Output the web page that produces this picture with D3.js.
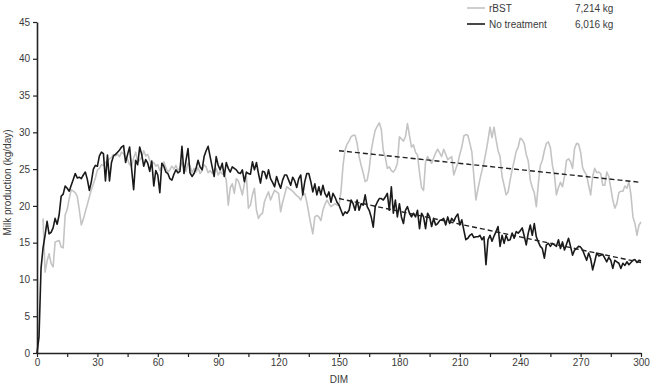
<!DOCTYPE html>
<html>
<head>
<meta charset="utf-8">
<script src="https://cdn.jsdelivr.net/npm/d3@7"></script>
<style>
    body { margin: 0; background: #fff; }
    text { font-family: "Liberation Sans", Arial, sans-serif; }
</style>
</head>
<body>
<div id="milkChart"></div>
<script>
"use strict";

// Daily milk yield (kg/day), index = days in milk (DIM)
const noTreatmentMilk = [
    0, 2.2, 11.5, 14.3, 16, 17.9, 16.2, 16.4, 17, 18.3,
    17.5, 18.8, 21.3, 21.6, 22.7, 22.4, 22, 22.8, 23.6, 24.4,
    23.8, 23.9, 23.7, 24.2, 24.6, 23.6, 22.1, 23.3, 25, 25.5,
    25.4, 26.8, 27.3, 27.1, 23.4, 26.9, 23.4, 25.9, 26.8, 27,
    27.3, 27.6, 28, 28.2, 25.9, 27, 28, 25, 22.2, 26.2,
    25.6, 28, 27, 25.4, 26.3, 25.8, 24.7, 26.1, 22.7, 24.8,
    24.2, 21.8, 25.8, 25.4, 24.6, 24.4, 23.7, 23.5, 24.3, 24.9,
    24.5, 24.7, 28.1, 24.4, 26.2, 27.8, 24.5, 24, 24.4, 25.1,
    26.2, 25.3, 24.9, 26.7, 27.5, 28.1, 26.7, 25.3, 24, 26.7,
    25.5, 24.9, 25.8, 24, 25.9, 25.1, 24.6, 25.3, 25.1, 24.9,
    24.5, 24.4, 24.9, 23.3, 24.6, 24.4, 24.3, 26, 24.9, 25.9,
    24.4, 23.1, 24.7, 24.6, 23.7, 24.9, 23.7, 23.2, 22.6, 24,
    23.1, 22.4, 23.5, 24.2, 24.2, 23.5, 22.8, 23.9, 23.4, 22.5,
    23.7, 24.2, 21.5, 23.3, 24.4, 24.4, 23.3, 21.9, 23, 21.5,
    22.6, 21.5, 22.8, 21.7, 21.2, 21.9, 20.5, 21.7, 21.2, 20.5,
    20.1, 19.4, 18.7, 19.2, 19, 19.4, 20.8, 20.3, 19.4, 20.8,
    19.4, 20.3, 20.1, 21.5, 19.9, 19.4, 18.5, 17.1, 19.9, 20.5,
    21, 21, 20.8, 21.2, 21.7, 19.4, 22.6, 19, 20.8, 18.5,
    20.3, 18.5, 17.6, 19.4, 19.9, 19, 18.5, 19, 18.5, 19.4,
    16.9, 19, 18.5, 16.9, 19, 18.5, 17.2, 18.3, 17.4, 17.6,
    18, 18.1, 18.3, 17.4, 18.5, 17.6, 18.3, 17.9, 18.5, 18.9,
    17.4, 18.1, 16.7, 15.4, 15.6, 16, 16.2, 15.7, 15.8, 15.8,
    16, 15.4, 15.8, 12, 15.4, 16, 15.2, 15.9, 16.5, 17.2,
    14.5, 16, 14.9, 16, 15.3, 15.4, 16.3, 15.6, 16.5, 16.3,
    16.6, 17, 15.9, 14.7, 16.3, 17.4, 16, 17.6, 15.8, 15.1,
    14.5, 14.2, 12.9, 14.7, 14.9, 14.5, 14.9, 14.7, 14.5, 15.4,
    14.2, 15.1, 14, 14.8, 15.6, 14.5, 13.3, 14, 14.2, 14.5,
    14.4, 14, 13.3, 12.6, 13.6, 12.8, 11.3, 12.4, 13.6, 13.2,
    13.3, 13.4, 12.9, 12.4, 13, 12.6, 11.5, 12.6, 12.4, 12.2,
    11.5, 12.2, 11.9, 12.4, 12, 12.3, 12.6, 12.7, 12.3, 12.6, 12.5
];

const rbstMilk = [
    null, null, null, 18.3, 11, 12.5, 13.5, 12.2, 11.7, 15.1,
    15.2, 15.3, 14.4, 14.3, 18.8, 19.5, 21, 22.2, 22, 21.8,
    21.3, 19.5, 17.4, 18.2, 19.2, 20.2, 21.2, 22.2, 23, 23.8,
    24.9, 25.1, 25.6, 25.5, 25.9, 26.1, 26.4, 26.6, 27, 26.8,
    27, 26.7, 27.3, 27.1, 26.5, 26.3, 25.6, 25.4, 26.5, 27.3,
    26, 26.2, 26.6, 27.5, 26.8, 27, 26.2, 25.7, 25.9, 25.4,
    25.6, 24.8, 25.3, 26, 25.2, 24.6, 24.9, 25.4, 25, 25.5,
    24.8, 25.2, 25.9, 25.1, 24.7, 25.8, 25.4, 24.5, 25.1, 24.6,
    25.2, 24.4, 24.8, 25.6, 25.3, 24.5, 24.8, 24.4, 24.6, 25.1,
    24.2, 24.7, 24.3, 24.5, 23.5, 20.1, 22.5, 23, 21.7, 23.7,
    23.4, 22.5, 21.5, 23, 24, 19.7, 20.1, 21.5, 22.4, 19.4,
    18.3, 18.8, 19, 20.6, 21.3, 21.9, 20.8, 21.5, 22.1, 21.9,
    21.7, 19.2, 20.5, 21.5, 22.6, 22.4, 22.2, 22, 21.7, 21.4,
    21.2, 20.8, 21.5, 21.7, 20.5, 19, 17.5, 16.2, 18.5, 18.7,
    18.5, 18, 19.4, 20.2, 20.8, 20.3, 19.9, 20.1, 20.3, 20.1,
    20.1, 22, 25.5, 27.6, 28.4, 28.8, 29.4, 29.6, 29.6, 28.5,
    26.7, 25.5, 24.5, 23.3, 23.5, 25, 27.5, 29, 30.3, 30.8,
    31.3, 30.4, 27.5, 26.6, 25.1, 25.3, 24.8, 24.6, 25, 25.8,
    29.4, 29.1, 28.8, 29.4, 31.2, 29.6, 28, 28.3, 27.3, 26.9,
    24.5, 22.5, 22.1, 26, 26.7, 26.2, 25.8, 26.5, 27.2, 27.7,
    27.2, 26.7, 27.7, 27, 26.3, 26.5, 26.7, 24.2, 25, 25.8,
    27, 28, 29.5, 29.7, 29.6, 28.5, 27.3, 24, 20.8, 22.3,
    23.6, 24.8, 25.9, 27.3, 28.9, 30.7, 29.3, 30.7, 29, 27.5,
    26.7, 24, 22.8, 21.5, 21.9, 23.5, 24.9, 26.1, 27.4, 28,
    29.2, 29, 28.5, 27, 26.1, 23.5, 22.5, 21.8, 19.9, 23,
    25.5, 26.2, 27.5, 28.5, 28.7, 27.9, 25.5, 24.2, 21.5, 22.5,
    23.2, 22.6, 24, 26.2, 26.4, 26, 25.1, 27.8, 28.5, 28.4,
    27.3, 25.2, 24.6, 24.2, 22.8, 21.5, 24, 25.1, 24.5, 24.6,
    24.4, 22.8, 22.8, 24.6, 24, 22.4, 20.8, 19.7, 20.3, 21.8,
    22, 22, 22.7, 22.4, 23.3, 21.5, 18.5, 17.6, 16, 17.4, 17.8
];

// Linear trends after day 150
const trendDays = [150, 300];
const rbstTrend = [27.5, 23.2];
const noTreatmentTrend = [21, 12.3];

// Legend
const seriesNames = ["rBST", "No treatment"];
const seriesTotals = ["7,214 kg", "6,016 kg"];

// Ticks
const xTickValues = [0, 15, 30, 45, 60, 75, 90, 105, 120, 135, 150, 165, 180, 195, 210, 225, 240, 255, 270, 285, 300];
const xTickLabels = [0, 30, 60, 90, 120, 150, 180, 210, 240, 270, 300];
const yTickValues = [0, 5, 10, 15, 20, 25, 30, 35, 40, 45];

const GRAY = "#c4c4c4";
const BLACK = "#1a1a1a";
const TEXT = "#3a3a3a";

window.addEventListener("load", () => {
    drawChart();
});

const drawChart = () => {

    var margin = { top: 22, right: 9, bottom: 34, left: 37 },
        width = 650 - margin.left - margin.right,
        height = 387 - margin.top - margin.bottom;

    var svg = d3.select("#milkChart")
        .append("svg")
        .attr("width", 650)
        .attr("height", 387)
        .append("g")
        .attr("transform", "translate(" + margin.left + "," + margin.top + ")");

    var x = d3.scaleLinear().domain([0, 300]).range([0, width]);
    var y = d3.scaleLinear().domain([0, 45]).range([height, 0]);

    // X axis
    var xAxis = svg.append("g")
        .attr("transform", "translate(0," + height + ")")
        .call(d3.axisBottom(x)
            .tickValues(xTickValues)
            .tickSize(4)
            .tickSizeOuter(0)
            .tickFormat(d => xTickLabels.includes(d) ? d : ""));
    xAxis.select(".domain").attr("stroke", "#222").attr("stroke-width", 1.6);
    xAxis.selectAll(".tick line").attr("stroke", "#222").attr("stroke-width", 1.2);
    xAxis.selectAll("text")
        .attr("y", 6)
        .style("font-size", "10px")
        .attr("fill", TEXT);

    // Y axis
    var yAxis = svg.append("g")
        .call(d3.axisLeft(y)
            .tickValues(yTickValues)
            .tickSize(4)
            .tickSizeOuter(0));
    yAxis.select(".domain").attr("stroke", "#222").attr("stroke-width", 1.6);
    yAxis.selectAll(".tick line").attr("stroke", "#222").attr("stroke-width", 1.2);
    yAxis.selectAll("text")
        .attr("x", -7)
        .style("font-size", "10px")
        .attr("fill", TEXT);

    // axis titles
    svg.append("text")
        .attr("x", width / 2)
        .attr("y", height + 30)
        .style("text-anchor", "middle")
        .style("font-size", "10px")
        .attr("fill", TEXT)
        .text("DIM");

    svg.append("text")
        .attr("transform", "rotate(-90)")
        .attr("x", 0 - (height / 2) + 5)
        .attr("y", 0 - margin.left + 11)
        .style("text-anchor", "middle")
        .style("font-size", "10px")
        .attr("fill", TEXT)
        .text("Milk production (kg/day)");

    var line = d3.line()
        .defined(d => d != null)
        .x((d, i) => x(i))
        .y(d => y(d));

    // rBST first, untreated on top
    svg.append("path")
        .datum(rbstMilk)
        .attr("fill", "none")
        .attr("stroke", GRAY)
        .attr("stroke-width", 1.6)
        .attr("stroke-linejoin", "round")
        .attr("d", line);

    svg.append("path")
        .datum(noTreatmentMilk)
        .attr("fill", "none")
        .attr("stroke", BLACK)
        .attr("stroke-width", 1.6)
        .attr("stroke-linejoin", "round")
        .attr("d", line);

    // dashed trend lines
    var trendLine = d3.line()
        .x((d, i) => x(trendDays[i]))
        .y(d => y(d));

    [rbstTrend, noTreatmentTrend].forEach(trend => {
        svg.append("path")
            .datum(trend)
            .attr("fill", "none")
            .attr("stroke", "#222")
            .attr("stroke-width", 1.4)
            .attr("stroke-dasharray", "5,3")
            .attr("d", trendLine);
    });

    // legend
    var legend = d3.select("#milkChart svg").append("g")
        .attr("transform", "translate(467,8)");
    seriesNames.forEach((name, i) => {
        var row = legend.append("g").attr("transform", "translate(0," + (i * 16) + ")");
        row.append("line")
            .attr("x1", 0).attr("x2", 18)
            .attr("stroke", i == 0 ? GRAY : BLACK)
            .attr("stroke-width", 1.6);
        row.append("text")
            .attr("x", 22).attr("dy", "0.35em")
            .style("font-size", "10px")
            .attr("fill", TEXT)
            .text(name);
        row.append("text")
            .attr("x", 108).attr("dy", "0.35em")
            .style("font-size", "10px")
            .attr("fill", TEXT)
            .text(seriesTotals[i]);
    });
}
</script>
</body>
</html>
